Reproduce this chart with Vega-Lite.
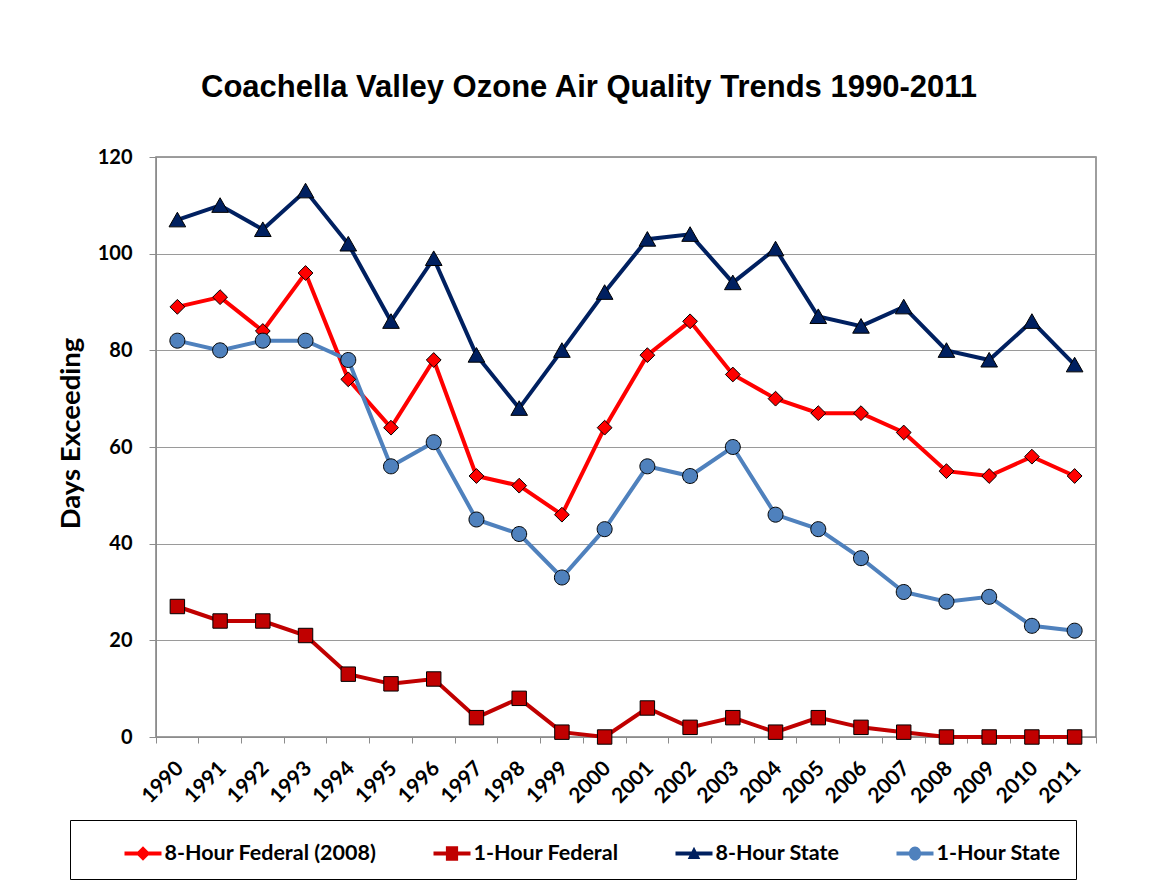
{
  "$schema": "https://vega.github.io/schema/vega-lite/v6.json",
  "width": 940,
  "height": 580,
  "autosize": {"type": "none"},
  "padding": {"left": 156, "top": 157, "right": 55, "bottom": 147},
  "background": "white",
  "title": {
    "text": "Coachella Valley Ozone Air Quality Trends 1990-2011",
    "font": "Liberation Sans",
    "fontSize": 31,
    "fontWeight": "bold",
    "color": "black",
    "frame": "group",
    "anchor": "middle",
    "dx": -37,
    "offset": 19,
    "baseline": "alphabetic"
  },
  "config": {
    "view": {"stroke": "#7f7f7f", "strokeWidth": 1.5},
    "axis": {"labelFont": "Lato", "labelFontWeight": "bold", "labelColor": "black", "titleFont": "Lato", "titleFontWeight": "bold", "titleColor": "black", "domainColor": "#8c8c8c", "tickColor": "#8c8c8c", "gridColor": "#9a9a9a"}
  },
  "data": {
    "values": [
      {"year": 1990, "series": "8-Hour Federal (2008)", "days": 89},
      {"year": 1991, "series": "8-Hour Federal (2008)", "days": 91},
      {"year": 1992, "series": "8-Hour Federal (2008)", "days": 84},
      {"year": 1993, "series": "8-Hour Federal (2008)", "days": 96},
      {"year": 1994, "series": "8-Hour Federal (2008)", "days": 74},
      {"year": 1995, "series": "8-Hour Federal (2008)", "days": 64},
      {"year": 1996, "series": "8-Hour Federal (2008)", "days": 78},
      {"year": 1997, "series": "8-Hour Federal (2008)", "days": 54},
      {"year": 1998, "series": "8-Hour Federal (2008)", "days": 52},
      {"year": 1999, "series": "8-Hour Federal (2008)", "days": 46},
      {"year": 2000, "series": "8-Hour Federal (2008)", "days": 64},
      {"year": 2001, "series": "8-Hour Federal (2008)", "days": 79},
      {"year": 2002, "series": "8-Hour Federal (2008)", "days": 86},
      {"year": 2003, "series": "8-Hour Federal (2008)", "days": 75},
      {"year": 2004, "series": "8-Hour Federal (2008)", "days": 70},
      {"year": 2005, "series": "8-Hour Federal (2008)", "days": 67},
      {"year": 2006, "series": "8-Hour Federal (2008)", "days": 67},
      {"year": 2007, "series": "8-Hour Federal (2008)", "days": 63},
      {"year": 2008, "series": "8-Hour Federal (2008)", "days": 55},
      {"year": 2009, "series": "8-Hour Federal (2008)", "days": 54},
      {"year": 2010, "series": "8-Hour Federal (2008)", "days": 58},
      {"year": 2011, "series": "8-Hour Federal (2008)", "days": 54},
      {"year": 1990, "series": "1-Hour Federal", "days": 27},
      {"year": 1991, "series": "1-Hour Federal", "days": 24},
      {"year": 1992, "series": "1-Hour Federal", "days": 24},
      {"year": 1993, "series": "1-Hour Federal", "days": 21},
      {"year": 1994, "series": "1-Hour Federal", "days": 13},
      {"year": 1995, "series": "1-Hour Federal", "days": 11},
      {"year": 1996, "series": "1-Hour Federal", "days": 12},
      {"year": 1997, "series": "1-Hour Federal", "days": 4},
      {"year": 1998, "series": "1-Hour Federal", "days": 8},
      {"year": 1999, "series": "1-Hour Federal", "days": 1},
      {"year": 2000, "series": "1-Hour Federal", "days": 0},
      {"year": 2001, "series": "1-Hour Federal", "days": 6},
      {"year": 2002, "series": "1-Hour Federal", "days": 2},
      {"year": 2003, "series": "1-Hour Federal", "days": 4},
      {"year": 2004, "series": "1-Hour Federal", "days": 1},
      {"year": 2005, "series": "1-Hour Federal", "days": 4},
      {"year": 2006, "series": "1-Hour Federal", "days": 2},
      {"year": 2007, "series": "1-Hour Federal", "days": 1},
      {"year": 2008, "series": "1-Hour Federal", "days": 0},
      {"year": 2009, "series": "1-Hour Federal", "days": 0},
      {"year": 2010, "series": "1-Hour Federal", "days": 0},
      {"year": 2011, "series": "1-Hour Federal", "days": 0},
      {"year": 1990, "series": "8-Hour State", "days": 107},
      {"year": 1991, "series": "8-Hour State", "days": 110},
      {"year": 1992, "series": "8-Hour State", "days": 105},
      {"year": 1993, "series": "8-Hour State", "days": 113},
      {"year": 1994, "series": "8-Hour State", "days": 102},
      {"year": 1995, "series": "8-Hour State", "days": 86},
      {"year": 1996, "series": "8-Hour State", "days": 99},
      {"year": 1997, "series": "8-Hour State", "days": 79},
      {"year": 1998, "series": "8-Hour State", "days": 68},
      {"year": 1999, "series": "8-Hour State", "days": 80},
      {"year": 2000, "series": "8-Hour State", "days": 92},
      {"year": 2001, "series": "8-Hour State", "days": 103},
      {"year": 2002, "series": "8-Hour State", "days": 104},
      {"year": 2003, "series": "8-Hour State", "days": 94},
      {"year": 2004, "series": "8-Hour State", "days": 101},
      {"year": 2005, "series": "8-Hour State", "days": 87},
      {"year": 2006, "series": "8-Hour State", "days": 85},
      {"year": 2007, "series": "8-Hour State", "days": 89},
      {"year": 2008, "series": "8-Hour State", "days": 80},
      {"year": 2009, "series": "8-Hour State", "days": 78},
      {"year": 2010, "series": "8-Hour State", "days": 86},
      {"year": 2011, "series": "8-Hour State", "days": 77},
      {"year": 1990, "series": "1-Hour State", "days": 82},
      {"year": 1991, "series": "1-Hour State", "days": 80},
      {"year": 1992, "series": "1-Hour State", "days": 82},
      {"year": 1993, "series": "1-Hour State", "days": 82},
      {"year": 1994, "series": "1-Hour State", "days": 78},
      {"year": 1995, "series": "1-Hour State", "days": 56},
      {"year": 1996, "series": "1-Hour State", "days": 61},
      {"year": 1997, "series": "1-Hour State", "days": 45},
      {"year": 1998, "series": "1-Hour State", "days": 42},
      {"year": 1999, "series": "1-Hour State", "days": 33},
      {"year": 2000, "series": "1-Hour State", "days": 43},
      {"year": 2001, "series": "1-Hour State", "days": 56},
      {"year": 2002, "series": "1-Hour State", "days": 54},
      {"year": 2003, "series": "1-Hour State", "days": 60},
      {"year": 2004, "series": "1-Hour State", "days": 46},
      {"year": 2005, "series": "1-Hour State", "days": 43},
      {"year": 2006, "series": "1-Hour State", "days": 37},
      {"year": 2007, "series": "1-Hour State", "days": 30},
      {"year": 2008, "series": "1-Hour State", "days": 28},
      {"year": 2009, "series": "1-Hour State", "days": 29},
      {"year": 2010, "series": "1-Hour State", "days": 23},
      {"year": 2011, "series": "1-Hour State", "days": 22}
    ]
  },
  "encoding": {
    "x": {
      "field": "year",
      "type": "ordinal",
      "scale": {"type": "band", "paddingInner": 0, "paddingOuter": 0},
      "axis": {
        "title": null,
        "labelAngle": -45,
        "labelAlign": "right",
        "labelBaseline": "middle",
        "labelFontSize": 21,
        "labelPadding": 22,
        "labelOffset": 3,
        "labelOverlap": false,
        "bandPosition": 1,
        "tickExtra": true,
        "tickSize": 6,
        "grid": false
      }
    },
    "y": {
      "field": "days",
      "type": "quantitative",
      "scale": {"domain": [0, 120], "nice": false},
      "axis": {
        "title": "Days Exceeding",
        "titleFontSize": 27.5,
        "titlePadding": 12,
        "titleY": 276,
        "values": [0, 20, 40, 60, 80, 100, 120],
        "labelFontSize": 20,
        "labelPadding": 17,
        "tickSize": 7,
        "grid": true
      }
    }
  },
  "layer": [
    {
      "mark": {"type": "line", "strokeWidth": 4},
      "encoding": {
        "stroke": {
          "field": "series",
          "type": "nominal",
          "scale": {
            "domain": ["8-Hour Federal (2008)", "1-Hour Federal", "8-Hour State", "1-Hour State"],
            "range": ["#FF0000", "#C00000", "#002060", "#4F81BD"]
          },
          "legend": null
        }
      }
    },
    {
      "mark": {"type": "point", "filled": true, "opacity": 1, "stroke": "black", "strokeWidth": 1, "size": 1369},
      "encoding": {
        "color": {
          "field": "series",
          "type": "nominal",
          "scale": {
            "domain": ["8-Hour Federal (2008)", "1-Hour Federal", "8-Hour State", "1-Hour State"],
            "range": ["#FF0000", "#C00000", "#002060", "#4F81BD"]
          },
          "legend": null
        },
        "shape": {
          "field": "series",
          "type": "nominal",
          "scale": {
            "domain": ["8-Hour Federal (2008)", "1-Hour Federal", "8-Hour State", "1-Hour State"],
            "range": [
              "M0,-0.4L0.4,0L0,0.4L-0.4,0Z",
              "M-0.39,-0.39H0.39V0.39H-0.39Z",
              "M0,-0.41L0.45,0.38L-0.45,0.38Z",
              "M-0.405,0A0.405,0.405,0,1,1,0.405,0A0.405,0.405,0,1,1,-0.405,0Z"
            ]
          },
          "legend": null
        }
      }
    },
    {
      "mark": {"type": "point", "filled": true, "opacity": 0, "size": 1369},
      "encoding": {
        "color": {
          "field": "series",
          "type": "nominal",
          "scale": {
            "domain": ["8-Hour Federal (2008)", "1-Hour Federal", "8-Hour State", "1-Hour State"],
            "range": ["#FF0000", "#C00000", "#002060", "#4F81BD"]
          },
          "legend": {
            "title": " ",
            "titleOrient": "left",
            "titleFontSize": 1,
            "titlePadding": 39.5,
            "orient": "none",
            "legendX": -86,
            "legendY": 663,
            "direction": "horizontal",
            "columns": 4,
            "padding": 15,
            "strokeColor": "black",
            "labelFont": "Lato",
            "labelFontWeight": "bold",
            "labelFontSize": 21.5,
            "labelColor": "black",
            "labelLimit": 500,
            "labelOffset": 3,
            "columnPadding": 57,
            "symbolSize": 1369,
            "symbolStrokeWidth": 0,
            "symbolOpacity": 1
          }
        },
        "shape": {
          "field": "series",
          "type": "nominal",
          "scale": {
            "domain": ["8-Hour Federal (2008)", "1-Hour Federal", "8-Hour State", "1-Hour State"],
            "range": [
              "M-1,-0.11H1V0.11H-1ZM0,-0.39L0.39,0L0,0.39L-0.39,0Z",
              "M-1,-0.11H1V0.11H-1ZM-0.33,-0.39H0.33V0.39H-0.33Z",
              "M-1,-0.11H1V0.11H-1ZM0,-0.36L0.34,0.3L-0.34,0.3Z",
              "M-1,-0.11H1V0.11H-1ZM-0.33,0A0.33,0.38,0,1,1,0.33,0A0.33,0.38,0,1,1,-0.33,0Z"
            ]
          },
          "legend": {
            "title": " ",
            "titleOrient": "left",
            "titleFontSize": 1,
            "titlePadding": 39.5,
            "orient": "none",
            "legendX": -86,
            "legendY": 663,
            "direction": "horizontal",
            "columns": 4,
            "padding": 15,
            "strokeColor": "black",
            "labelFont": "Lato",
            "labelFontWeight": "bold",
            "labelFontSize": 21.5,
            "labelColor": "black",
            "labelLimit": 500,
            "labelOffset": 3,
            "columnPadding": 57,
            "symbolSize": 1369,
            "symbolStrokeWidth": 0,
            "symbolOpacity": 1
          }
        }
      }
    }
  ],
  "resolve": {"scale": {"color": "independent", "shape": "independent"}}
}
